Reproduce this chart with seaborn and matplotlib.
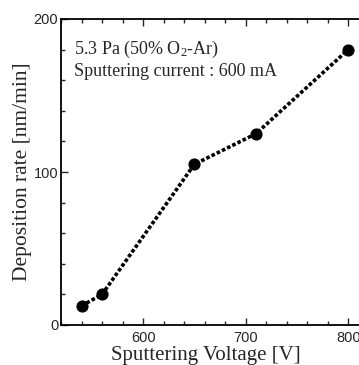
import matplotlib
matplotlib.use("Agg")
import matplotlib.pyplot as plt
import seaborn as sns
import pandas as pd
from matplotlib.ticker import MultipleLocator

voltage = [540, 560, 650, 710, 800]
rate = [12.5, 20, 105, 125, 180]
x_ticks = [600, 700, 800]
y_ticks = [0, 100, 200]

sns.set_theme(style="ticks")
plt.rcParams['font.family'] = ['Liberation Sans', 'DejaVu Sans']
plt.rcParams['mathtext.fontset'] = 'custom'
plt.rcParams['mathtext.rm'] = 'Liberation Serif'
plt.rcParams['mathtext.it'] = 'Liberation Serif:italic'

df = pd.DataFrame({"voltage": voltage, "rate": rate})

fig = plt.figure(figsize=(3.59, 3.65), dpi=100)
ax = fig.add_axes([61/359, 40/365, 318/359, 306/365])

sns.lineplot(data=df, x="voltage", y="rate", ax=ax, color="black",
             linestyle=(0, (1, 0.6)), linewidth=2.6, marker="o",
             markersize=8, markeredgecolor="black", markerfacecolor="black")

ax.set_xlim(520, 830)
ax.set_ylim(0, 200)
ax.set_xticks(x_ticks)
ax.set_yticks(y_ticks)
ax.xaxis.set_minor_locator(MultipleLocator(20))
ax.yaxis.set_minor_locator(MultipleLocator(20))
ax.tick_params(which="both", direction="in", top=True, right=True,
               labelsize=10.5, width=1)
ax.tick_params(axis="x", which="both", pad=4)
ax.tick_params(axis="y", which="both", pad=2)
ax.tick_params(which="major", length=5)
ax.tick_params(which="minor", length=3)
for s in ax.spines.values():
    s.set_linewidth(1.3)
    s.set_color("black")

serif = ['Liberation Serif', 'DejaVu Serif']
ax.set_xlabel("Sputtering Voltage [V]", family=serif, fontsize=15)
ax.xaxis.set_label_coords(0.456, -0.067)
ax.set_ylabel("Deposition rate [nm/min]", family=serif, fontsize=15.5, labelpad=1)

ax.text(532.7, 180, "5.3 Pa (50% O$_2$-Ar)", family=serif, fontsize=13,
        va="center", ha="left")
ax.text(532.7, 166, "Sputtering current : 600 mA", family=serif, fontsize=13,
        va="center", ha="left")

fig.savefig("out.png", dpi=100)
